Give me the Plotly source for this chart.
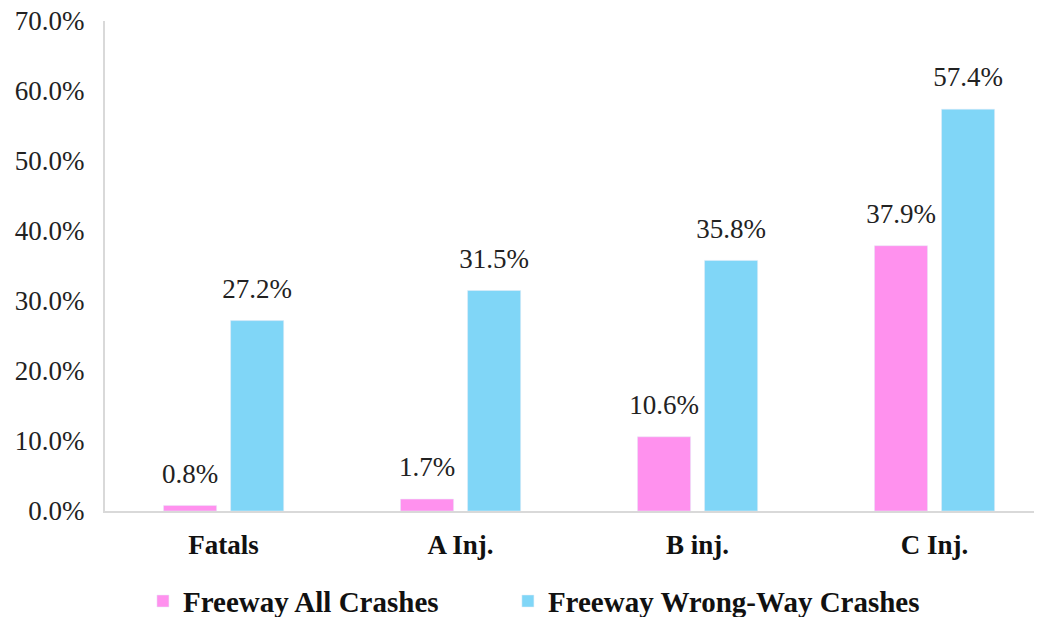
import plotly.graph_objects as go

categories = ["Fatals", "A Inj.", "B inj.", "C Inj."]
all_crashes = [0.008, 0.017, 0.106, 0.379]
wrong_way = [0.272, 0.315, 0.358, 0.574]
series_names = ["Freeway All Crashes", "Freeway Wrong-Way Crashes"]
y_ticks = [0, 0.1, 0.2, 0.3, 0.4, 0.5, 0.6, 0.7]

PINK = "#FF91EE"
BLUE = "#80D6F7"
FONT = "Liberation Serif"
BAR_W = 0.224
OFFSETS = [-0.253, 0.03]

fig = go.Figure()
xs = list(range(len(categories)))
for vals, name, color, off, leg in [(all_crashes, series_names[0], PINK, OFFSETS[0], "legend"),
                                    (wrong_way, series_names[1], BLUE, OFFSETS[1], "legend2")]:
    fig.add_trace(go.Bar(
        x=xs, y=vals, name=name, legend=leg,
        marker=dict(color=color), width=BAR_W, offset=off,
        hoverinfo="skip",
    ))
    # value labels, floated above each bar
    fig.add_trace(go.Scatter(
        x=[i + off + BAR_W / 2 for i in xs], y=vals, mode="markers+text",
        marker=dict(size=24, opacity=0), showlegend=False,
        text=[f"{v:.1%}" for v in vals], textposition="top center",
        textfont=dict(family=FONT, size=27, color="#222"), cliponaxis=False,
    ))

legend_font = dict(family=FONT, size=29, weight="bold", color="#111")
fig.update_layout(
    width=1034, height=609,
    margin=dict(l=97, r=0, t=13, b=106, autoexpand=False),
    plot_bgcolor="white", paper_bgcolor="white",
    barmode="overlay",
    font=dict(family=FONT, color="#222"),
    showlegend=True,
    legend=dict(orientation="h", x=0.0405, xanchor="left", y=-0.184, yanchor="middle",
                font=legend_font, itemwidth=30),
    legend2=dict(orientation="h", x=0.430, xanchor="left", y=-0.184, yanchor="middle",
                 font=legend_font, itemwidth=30),
    xaxis=dict(
        range=[-0.5, 3.454], tickmode="array", tickvals=xs,
        ticktext=categories, showgrid=False, showline=True, linecolor="#d9d9d9",
        linewidth=2, ticks="", ticklabelstandoff=9, automargin=False,
        tickfont=dict(family=FONT, size=27, weight="bold", color="#111"),
        zeroline=False,
    ),
    yaxis=dict(
        range=[0, 0.7], tickmode="array", tickvals=y_ticks, tickformat=".1%",
        showgrid=False, showline=True, linecolor="#d9d9d9", linewidth=2,
        ticks="", ticklabelstandoff=13, zeroline=False, automargin=False,
        ticklabeloverflow="allow",
        tickfont=dict(family=FONT, size=27, color="#222"),
    ),
)

fig.write_html("out.html")
